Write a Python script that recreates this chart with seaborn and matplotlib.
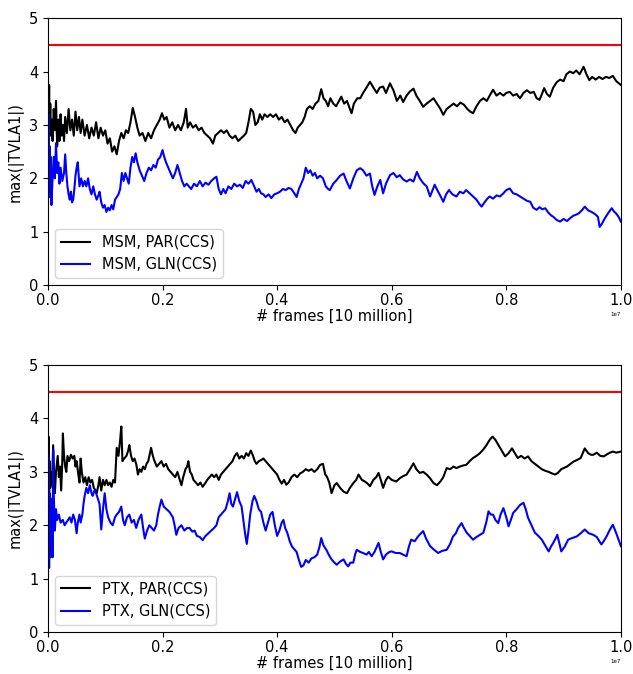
import numpy as np
import pandas as pd
import matplotlib
matplotlib.use("Agg")
import matplotlib.pyplot as plt
import seaborn as sns

# (fraction of 1e7 frames, max |TVLA1|)
MSM_PAR = [
    (0.000, 3.90), (0.001, 3.00), (0.002, 3.75), (0.003, 2.90), (0.004, 3.40), (0.005, 2.80),
    (0.006, 3.10), (0.008, 2.70), (0.010, 3.30), (0.012, 2.90), (0.014, 3.45), (0.016, 2.60),
    (0.018, 3.10), (0.020, 2.70), (0.022, 3.20), (0.024, 2.80), (0.026, 3.00), (0.028, 2.70),
    (0.030, 3.15), (0.033, 2.85), (0.036, 3.30), (0.039, 2.90), (0.042, 3.10), (0.045, 2.80),
    (0.048, 3.25), (0.051, 2.90), (0.054, 3.15), (0.057, 2.85), (0.060, 3.10), (0.064, 2.80),
    (0.068, 3.00), (0.072, 2.75), (0.076, 2.95), (0.080, 2.80), (0.084, 3.05), (0.088, 2.75),
    (0.092, 2.95), (0.096, 2.80), (0.100, 2.90), (0.104, 2.65), (0.108, 2.75), (0.112, 2.50),
    (0.116, 2.60), (0.120, 2.45), (0.124, 2.70), (0.128, 2.85), (0.132, 2.75), (0.136, 2.90),
    (0.140, 2.85), (0.144, 3.05), (0.148, 3.32), (0.152, 3.15), (0.156, 2.95), (0.160, 2.80),
    (0.165, 2.85), (0.170, 2.70), (0.175, 2.85), (0.180, 2.75), (0.185, 2.90), (0.190, 3.00),
    (0.195, 3.10), (0.199, 3.22), (0.203, 3.10), (0.207, 3.15), (0.212, 2.95), (0.217, 3.05),
    (0.222, 2.90), (0.227, 3.00), (0.232, 2.90), (0.237, 3.05), (0.241, 3.30), (0.244, 2.95),
    (0.248, 3.05), (0.253, 2.95), (0.258, 3.00), (0.263, 2.90), (0.268, 2.95), (0.273, 2.85),
    (0.278, 2.80), (0.283, 2.75), (0.288, 2.65), (0.292, 2.80), (0.297, 2.85), (0.302, 2.90),
    (0.307, 2.85), (0.312, 2.90), (0.317, 2.80), (0.322, 2.75), (0.327, 2.80), (0.332, 2.70),
    (0.337, 2.75), (0.342, 2.80), (0.346, 2.85), (0.350, 3.05), (0.354, 3.30), (0.358, 3.25),
    (0.362, 3.00), (0.366, 3.05), (0.370, 3.20), (0.374, 3.10), (0.378, 3.20), (0.383, 3.15),
    (0.388, 3.20), (0.393, 3.15), (0.398, 3.20), (0.403, 3.10), (0.408, 3.15), (0.413, 3.05),
    (0.418, 3.10), (0.423, 3.00), (0.428, 2.90), (0.432, 2.85), (0.436, 2.95), (0.440, 3.00),
    (0.444, 3.05), (0.448, 3.15), (0.452, 3.30), (0.457, 3.35), (0.462, 3.30), (0.467, 3.40),
    (0.472, 3.45), (0.477, 3.67), (0.481, 3.50), (0.485, 3.45), (0.489, 3.35), (0.493, 3.50),
    (0.498, 3.40), (0.503, 3.35), (0.508, 3.45), (0.512, 3.53), (0.517, 3.40), (0.522, 3.45),
    (0.527, 3.30), (0.530, 3.22), (0.534, 3.40), (0.540, 3.50), (0.545, 3.50), (0.550, 3.60),
    (0.556, 3.70), (0.562, 3.81), (0.568, 3.70), (0.574, 3.60), (0.579, 3.70), (0.585, 3.72),
    (0.590, 3.60), (0.597, 3.78), (0.603, 3.65), (0.609, 3.45), (0.615, 3.55), (0.620, 3.43),
    (0.626, 3.55), (0.632, 3.63), (0.638, 3.68), (0.643, 3.55), (0.649, 3.45), (0.655, 3.34),
    (0.661, 3.40), (0.667, 3.45), (0.673, 3.50), (0.679, 3.40), (0.685, 3.30), (0.690, 3.19),
    (0.696, 3.30), (0.702, 3.35), (0.708, 3.40), (0.714, 3.35), (0.720, 3.42), (0.726, 3.38),
    (0.732, 3.30), (0.737, 3.25), (0.742, 3.22), (0.748, 3.35), (0.754, 3.45), (0.760, 3.50),
    (0.766, 3.45), (0.771, 3.55), (0.777, 3.66), (0.783, 3.55), (0.789, 3.60), (0.795, 3.55),
    (0.800, 3.60), (0.806, 3.62), (0.812, 3.55), (0.818, 3.58), (0.824, 3.50), (0.830, 3.60),
    (0.836, 3.65), (0.842, 3.60), (0.848, 3.62), (0.853, 3.50), (0.858, 3.47), (0.863, 3.60),
    (0.866, 3.69), (0.871, 3.58), (0.876, 3.53), (0.882, 3.70), (0.888, 3.80), (0.894, 3.85),
    (0.900, 3.82), (0.905, 3.95), (0.911, 4.00), (0.917, 3.97), (0.922, 4.02), (0.928, 3.95),
    (0.935, 4.09), (0.940, 3.95), (0.945, 3.84), (0.950, 3.90), (0.956, 3.85), (0.962, 3.90),
    (0.968, 3.86), (0.974, 3.90), (0.980, 3.88), (0.986, 3.92), (0.992, 3.82), (1.000, 3.75),
]

MSM_GLN = [
    (0.000, 2.20), (0.001, 3.20), (0.002, 1.65), (0.003, 2.60), (0.004, 1.90), (0.005, 2.40),
    (0.006, 1.50), (0.008, 2.00), (0.010, 2.40), (0.012, 2.00), (0.014, 2.66), (0.016, 2.10),
    (0.018, 2.30), (0.020, 1.90), (0.022, 2.20), (0.025, 1.95), (0.028, 2.10), (0.030, 2.45),
    (0.032, 2.10), (0.034, 1.85), (0.036, 1.70), (0.038, 1.60), (0.040, 1.75), (0.042, 1.55),
    (0.044, 1.60), (0.046, 1.80), (0.048, 2.05), (0.050, 2.20), (0.052, 2.30), (0.055, 1.85),
    (0.058, 2.00), (0.061, 1.85), (0.064, 1.95), (0.067, 1.85), (0.070, 2.00), (0.073, 1.80),
    (0.076, 1.70), (0.079, 1.85), (0.082, 1.70), (0.085, 1.60), (0.088, 1.68), (0.090, 1.75),
    (0.093, 1.55), (0.096, 1.45), (0.099, 1.50), (0.102, 1.37), (0.105, 1.45), (0.108, 1.40),
    (0.111, 1.50), (0.114, 1.42), (0.117, 1.60), (0.120, 1.65), (0.123, 1.70), (0.126, 1.80),
    (0.129, 2.10), (0.132, 1.95), (0.135, 2.10), (0.138, 2.00), (0.141, 1.90), (0.144, 2.20),
    (0.147, 2.40), (0.150, 2.30), (0.153, 2.47), (0.156, 2.30), (0.160, 2.15), (0.164, 2.05),
    (0.168, 1.95), (0.172, 2.10), (0.176, 2.20), (0.180, 2.15), (0.184, 2.25), (0.188, 2.20),
    (0.192, 2.35), (0.196, 2.40), (0.200, 2.53), (0.203, 2.40), (0.206, 2.30), (0.210, 2.20),
    (0.214, 2.10), (0.218, 2.00), (0.222, 2.10), (0.226, 2.25), (0.230, 2.10), (0.234, 1.95),
    (0.238, 1.85), (0.242, 1.90), (0.246, 1.85), (0.250, 1.80), (0.255, 1.90), (0.260, 1.85),
    (0.265, 1.95), (0.270, 1.85), (0.275, 1.92), (0.280, 1.88), (0.285, 1.95), (0.290, 2.00),
    (0.294, 2.03), (0.298, 1.80), (0.302, 1.70), (0.306, 1.80), (0.310, 1.72), (0.315, 1.85),
    (0.320, 1.80), (0.325, 1.90), (0.330, 1.85), (0.335, 1.88), (0.340, 1.82), (0.345, 1.95),
    (0.350, 1.90), (0.355, 1.97), (0.360, 1.85), (0.364, 1.75), (0.368, 1.80), (0.372, 1.72),
    (0.376, 1.70), (0.380, 1.65), (0.385, 1.70), (0.390, 1.63), (0.395, 1.70), (0.400, 1.72),
    (0.405, 1.75), (0.410, 1.80), (0.415, 1.78), (0.420, 1.82), (0.425, 1.80), (0.430, 1.72),
    (0.434, 1.65), (0.438, 1.80), (0.442, 1.90), (0.446, 2.00), (0.450, 2.20), (0.454, 2.10),
    (0.458, 2.15), (0.462, 2.05), (0.466, 2.10), (0.470, 2.00), (0.475, 2.05), (0.480, 2.00),
    (0.485, 1.85), (0.489, 1.80), (0.492, 1.78), (0.498, 1.90), (0.504, 1.97), (0.510, 2.05),
    (0.516, 2.09), (0.521, 1.95), (0.527, 1.81), (0.533, 2.00), (0.539, 2.15), (0.545, 2.19),
    (0.550, 2.15), (0.556, 2.05), (0.562, 2.09), (0.566, 1.85), (0.570, 1.69), (0.575, 1.85),
    (0.580, 1.97), (0.585, 1.72), (0.590, 1.90), (0.597, 2.06), (0.603, 2.10), (0.609, 2.02),
    (0.614, 2.06), (0.620, 1.98), (0.626, 1.94), (0.632, 1.98), (0.638, 1.94), (0.644, 2.12),
    (0.649, 2.00), (0.655, 1.91), (0.661, 1.85), (0.667, 1.66), (0.672, 1.80), (0.675, 1.88),
    (0.681, 1.75), (0.686, 1.65), (0.690, 1.56), (0.695, 1.70), (0.700, 1.78), (0.706, 1.70),
    (0.713, 1.66), (0.719, 1.75), (0.725, 1.72), (0.730, 1.78), (0.736, 1.72), (0.742, 1.66),
    (0.748, 1.60), (0.753, 1.52), (0.757, 1.47), (0.762, 1.55), (0.767, 1.62), (0.771, 1.66),
    (0.777, 1.62), (0.783, 1.68), (0.789, 1.66), (0.795, 1.72), (0.800, 1.78), (0.806, 1.81),
    (0.812, 1.72), (0.818, 1.70), (0.824, 1.66), (0.830, 1.62), (0.836, 1.58), (0.842, 1.56),
    (0.847, 1.45), (0.853, 1.41), (0.858, 1.46), (0.863, 1.42), (0.868, 1.44), (0.874, 1.35),
    (0.879, 1.30), (0.882, 1.28), (0.888, 1.22), (0.894, 1.19), (0.900, 1.24), (0.906, 1.20),
    (0.911, 1.25), (0.917, 1.30), (0.922, 1.32), (0.926, 1.34), (0.932, 1.40), (0.937, 1.47),
    (0.943, 1.40), (0.949, 1.37), (0.955, 1.33), (0.960, 1.28), (0.963, 1.09), (0.967, 1.15),
    (0.972, 1.25), (0.978, 1.35), (0.984, 1.44), (0.988, 1.38), (0.992, 1.34), (0.996, 1.28),
    (1.000, 1.19),
]

PTX_PAR = [
    (0.000, 2.90), (0.001, 3.66), (0.002, 2.60), (0.003, 3.20), (0.004, 2.70), (0.005, 3.00),
    (0.007, 2.75), (0.009, 3.50), (0.011, 2.85), (0.012, 2.60), (0.014, 3.00), (0.017, 3.30),
    (0.019, 2.90), (0.021, 3.10), (0.023, 2.65), (0.025, 3.20), (0.026, 3.72), (0.028, 3.30),
    (0.030, 3.10), (0.032, 3.00), (0.034, 3.30), (0.037, 3.20), (0.040, 3.32), (0.043, 3.25),
    (0.046, 3.30), (0.048, 3.10), (0.050, 3.20), (0.053, 2.95), (0.055, 2.80), (0.057, 3.25),
    (0.059, 3.00), (0.062, 2.80), (0.065, 2.90), (0.068, 2.75), (0.071, 2.90), (0.074, 2.80),
    (0.077, 2.85), (0.080, 2.70), (0.083, 2.65), (0.085, 2.60), (0.088, 2.75), (0.090, 2.90),
    (0.093, 2.65), (0.096, 2.85), (0.099, 2.75), (0.102, 2.85), (0.105, 2.75), (0.108, 2.80),
    (0.111, 2.72), (0.114, 2.85), (0.117, 2.80), (0.120, 3.45), (0.123, 3.30), (0.126, 3.60),
    (0.128, 3.85), (0.130, 3.20), (0.133, 3.25), (0.137, 3.30), (0.140, 3.40), (0.142, 3.50),
    (0.145, 3.30), (0.148, 3.20), (0.151, 3.25), (0.154, 3.15), (0.157, 2.95), (0.160, 3.05),
    (0.163, 3.00), (0.166, 3.10), (0.169, 3.05), (0.172, 3.15), (0.175, 3.20), (0.178, 3.35),
    (0.180, 3.45), (0.183, 3.30), (0.186, 3.20), (0.190, 3.10), (0.194, 3.15), (0.198, 3.20),
    (0.202, 3.10), (0.206, 3.15), (0.210, 3.05), (0.214, 3.00), (0.218, 2.95), (0.222, 2.90),
    (0.226, 3.00), (0.230, 2.85), (0.233, 2.75), (0.236, 2.90), (0.240, 3.05), (0.243, 3.10),
    (0.245, 3.20), (0.248, 3.00), (0.251, 2.95), (0.254, 2.85), (0.258, 2.80), (0.262, 2.75),
    (0.266, 2.80), (0.270, 2.72), (0.274, 2.78), (0.278, 2.85), (0.282, 2.90), (0.286, 2.95),
    (0.290, 2.90), (0.294, 2.95), (0.298, 2.85), (0.302, 2.95), (0.306, 3.00), (0.310, 3.05),
    (0.314, 3.10), (0.318, 3.15), (0.322, 3.20), (0.326, 3.30), (0.330, 3.35), (0.334, 3.25),
    (0.338, 3.30), (0.342, 3.25), (0.346, 3.35), (0.350, 3.30), (0.354, 3.40), (0.358, 3.30),
    (0.361, 3.20), (0.364, 3.15), (0.368, 3.20), (0.372, 3.22), (0.376, 3.25), (0.380, 3.20),
    (0.384, 3.15), (0.388, 3.10), (0.392, 3.05), (0.396, 3.00), (0.400, 2.95), (0.404, 2.85),
    (0.408, 2.78), (0.412, 2.85), (0.416, 2.76), (0.420, 2.80), (0.425, 2.90), (0.430, 2.95),
    (0.435, 2.90), (0.440, 2.97), (0.445, 3.00), (0.450, 3.05), (0.455, 3.02), (0.460, 3.05),
    (0.465, 3.00), (0.470, 3.05), (0.475, 3.13), (0.480, 3.15), (0.484, 2.95), (0.487, 2.91),
    (0.491, 2.80), (0.495, 2.60), (0.500, 2.75), (0.504, 2.79), (0.510, 2.70), (0.516, 2.63),
    (0.522, 2.60), (0.527, 2.70), (0.533, 2.79), (0.538, 2.85), (0.542, 2.95), (0.548, 2.85),
    (0.553, 2.82), (0.558, 2.78), (0.562, 2.73), (0.568, 2.85), (0.573, 2.90), (0.577, 2.98),
    (0.581, 2.85), (0.585, 2.70), (0.590, 2.85), (0.594, 2.91), (0.600, 2.85), (0.608, 2.82),
    (0.614, 2.88), (0.620, 2.92), (0.626, 2.95), (0.632, 3.05), (0.638, 3.16), (0.643, 3.05),
    (0.649, 2.98), (0.655, 3.00), (0.661, 2.95), (0.667, 2.88), (0.673, 2.79), (0.679, 2.75),
    (0.685, 2.82), (0.690, 2.90), (0.696, 3.07), (0.702, 3.05), (0.708, 3.10), (0.713, 3.07),
    (0.719, 3.10), (0.725, 3.12), (0.730, 3.13), (0.736, 3.20), (0.742, 3.26), (0.748, 3.30),
    (0.754, 3.35), (0.760, 3.42), (0.766, 3.51), (0.771, 3.60), (0.776, 3.66), (0.781, 3.60),
    (0.786, 3.51), (0.792, 3.40), (0.798, 3.29), (0.804, 3.35), (0.810, 3.44), (0.815, 3.35),
    (0.820, 3.26), (0.826, 3.30), (0.832, 3.25), (0.838, 3.29), (0.844, 3.20), (0.850, 3.15),
    (0.856, 3.10), (0.862, 3.05), (0.868, 3.02), (0.874, 3.00), (0.880, 2.97), (0.885, 2.95),
    (0.890, 2.98), (0.896, 3.05), (0.900, 3.07), (0.906, 3.10), (0.912, 3.15), (0.917, 3.19),
    (0.923, 3.22), (0.930, 3.26), (0.937, 3.44), (0.943, 3.35), (0.948, 3.32), (0.952, 3.32),
    (0.958, 3.36), (0.964, 3.30), (0.970, 3.29), (0.976, 3.33), (0.981, 3.36), (0.986, 3.38),
    (0.992, 3.36), (1.000, 3.38),
]

PTX_GLN = [
    (0.000, 2.20), (0.001, 3.30), (0.002, 1.20), (0.003, 2.60), (0.004, 1.40), (0.005, 2.50),
    (0.006, 1.60), (0.007, 2.30), (0.008, 1.40), (0.009, 3.41), (0.010, 2.60), (0.012, 1.90),
    (0.014, 2.30), (0.016, 2.10), (0.019, 2.20), (0.022, 2.05), (0.026, 2.10), (0.029, 2.00),
    (0.032, 2.05), (0.035, 2.10), (0.038, 2.15), (0.041, 2.05), (0.044, 2.20), (0.047, 2.10),
    (0.050, 1.85), (0.052, 2.05), (0.055, 2.20), (0.057, 2.05), (0.060, 2.20), (0.062, 2.40),
    (0.064, 2.55), (0.067, 2.70), (0.070, 2.60), (0.073, 2.75), (0.076, 2.60), (0.078, 2.55),
    (0.081, 2.65), (0.084, 2.60), (0.087, 2.50), (0.090, 2.40), (0.093, 1.92), (0.096, 2.30),
    (0.099, 2.60), (0.102, 2.30), (0.105, 2.15), (0.109, 2.05), (0.113, 2.00), (0.117, 2.15),
    (0.120, 2.20), (0.124, 2.25), (0.128, 2.35), (0.131, 2.10), (0.134, 2.00), (0.138, 2.15),
    (0.142, 2.20), (0.146, 2.05), (0.150, 2.10), (0.154, 1.95), (0.158, 2.10), (0.163, 2.20),
    (0.166, 1.95), (0.169, 1.75), (0.173, 1.90), (0.177, 2.00), (0.181, 1.95), (0.185, 1.90),
    (0.189, 2.00), (0.192, 2.20), (0.195, 2.35), (0.198, 2.48), (0.202, 2.35), (0.207, 2.30),
    (0.212, 2.25), (0.218, 2.15), (0.221, 2.00), (0.224, 1.82), (0.228, 1.95), (0.233, 2.00),
    (0.238, 1.90), (0.243, 1.95), (0.247, 1.95), (0.252, 1.88), (0.256, 1.90), (0.260, 1.80),
    (0.265, 1.78), (0.270, 1.72), (0.275, 1.80), (0.280, 1.85), (0.285, 1.90), (0.290, 1.95),
    (0.294, 2.00), (0.298, 2.15), (0.302, 2.20), (0.306, 2.25), (0.310, 2.30), (0.314, 2.45),
    (0.317, 2.60), (0.320, 2.40), (0.323, 2.35), (0.327, 2.50), (0.330, 2.62), (0.334, 2.45),
    (0.338, 2.35), (0.341, 2.10), (0.344, 1.85), (0.347, 1.65), (0.350, 1.90), (0.353, 2.20),
    (0.357, 2.45), (0.360, 2.55), (0.364, 2.45), (0.368, 2.30), (0.372, 2.25), (0.376, 2.05),
    (0.380, 1.90), (0.384, 2.05), (0.388, 2.20), (0.392, 2.25), (0.396, 2.00), (0.400, 1.80),
    (0.404, 1.90), (0.408, 2.05), (0.411, 2.10), (0.414, 1.95), (0.418, 1.85), (0.422, 1.70),
    (0.426, 1.60), (0.430, 1.55), (0.434, 1.50), (0.438, 1.35), (0.442, 1.22), (0.446, 1.25),
    (0.450, 1.35), (0.455, 1.30), (0.460, 1.38), (0.465, 1.40), (0.470, 1.45), (0.474, 1.60),
    (0.477, 1.76), (0.481, 1.62), (0.486, 1.54), (0.490, 1.45), (0.495, 1.36), (0.500, 1.30),
    (0.504, 1.26), (0.510, 1.32), (0.516, 1.36), (0.520, 1.28), (0.524, 1.23), (0.528, 1.30),
    (0.533, 1.30), (0.536, 1.45), (0.539, 1.54), (0.545, 1.50), (0.550, 1.48), (0.556, 1.45),
    (0.560, 1.50), (0.565, 1.42), (0.570, 1.50), (0.574, 1.60), (0.577, 1.67), (0.581, 1.50),
    (0.585, 1.36), (0.590, 1.45), (0.596, 1.50), (0.600, 1.51), (0.607, 1.48), (0.614, 1.48),
    (0.620, 1.45), (0.626, 1.42), (0.630, 1.60), (0.634, 1.73), (0.640, 1.70), (0.646, 1.79),
    (0.651, 1.85), (0.655, 1.89), (0.660, 1.75), (0.667, 1.61), (0.673, 1.55), (0.681, 1.48),
    (0.688, 1.52), (0.696, 1.54), (0.702, 1.65), (0.707, 1.79), (0.712, 1.85), (0.716, 1.95),
    (0.722, 2.04), (0.726, 1.95), (0.731, 1.86), (0.736, 1.80), (0.742, 1.73), (0.748, 1.78),
    (0.754, 1.82), (0.760, 1.86), (0.765, 2.05), (0.769, 2.26), (0.773, 2.20), (0.777, 2.20),
    (0.781, 2.10), (0.786, 2.04), (0.790, 2.20), (0.795, 2.32), (0.800, 2.15), (0.804, 1.98),
    (0.808, 2.10), (0.812, 2.23), (0.818, 2.30), (0.824, 2.38), (0.830, 2.42), (0.834, 2.30),
    (0.838, 2.14), (0.844, 2.00), (0.850, 1.86), (0.856, 1.80), (0.862, 1.73), (0.868, 1.62),
    (0.874, 1.51), (0.878, 1.60), (0.882, 1.67), (0.886, 1.75), (0.889, 1.82), (0.893, 1.65),
    (0.896, 1.51), (0.902, 1.60), (0.908, 1.73), (0.915, 1.76), (0.923, 1.79), (0.930, 1.85),
    (0.937, 1.92), (0.944, 1.85), (0.952, 1.82), (0.958, 1.78), (0.966, 1.64), (0.970, 1.70),
    (0.975, 1.79), (0.980, 1.90), (0.986, 2.01), (0.992, 1.85), (1.000, 1.61),
]

THRESHOLD = 4.5
TOTAL_FRAMES = 1e7

PANELS = [
    [("MSM, PAR(CCS)", MSM_PAR, "black"), ("MSM, GLN(CCS)", MSM_GLN, "blue")],
    [("PTX, PAR(CCS)", PTX_PAR, "black"), ("PTX, GLN(CCS)", PTX_GLN, "blue")],
]


def to_frame(series):
    rows = []
    for label, points, _ in series:
        for frac, val in points:
            rows.append({"frames": frac * TOTAL_FRAMES, "tvla": val, "trace": label})
    return pd.DataFrame(rows)


plt.rcParams["font.size"] = 10.5
plt.rcParams["xtick.labelsize"] = 10.5
plt.rcParams["ytick.labelsize"] = 10.5
plt.rcParams["xtick.major.pad"] = 2

fig = plt.figure(figsize=(6.33, 6.74), dpi=100)
ax_top = fig.add_axes([0.0758, 0.577, 0.905, 0.396])
ax_bot = fig.add_axes([0.0758, 0.0623, 0.905, 0.396])

for ax, series in zip([ax_top, ax_bot], PANELS):
    df = to_frame(series)
    palette = {label: color for label, _, color in series}
    sns.lineplot(data=df, x="frames", y="tvla", hue="trace", palette=palette,
                 sort=False, estimator=None, linewidth=1.5, ax=ax)
    ax.axhline(THRESHOLD, color="red", linewidth=1.5)
    ax.set_xlim(0, TOTAL_FRAMES)
    ax.set_ylim(0, 5)
    ax.set_xlabel("# frames [10 million]", labelpad=1)
    ax.set_ylabel("max(|TVLA1|)")
    ax.xaxis.get_offset_text().set_fontsize(4)
    ax.legend(loc="lower left", fontsize=10.5)

fig.savefig("out.png", dpi=100)
